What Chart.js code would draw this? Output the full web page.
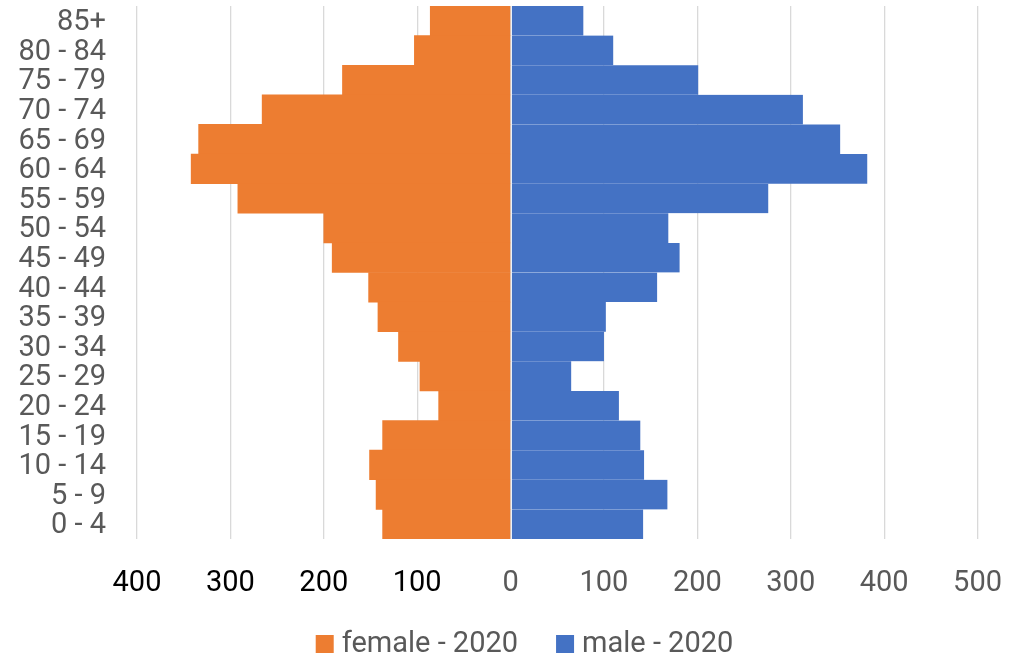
<!DOCTYPE html>
<html>
<head>
<meta charset="utf-8">
<script src="https://cdn.jsdelivr.net/npm/chart.js@4/dist/chart.umd.min.js"></script>
<style>
  html, body { margin: 0; padding: 0; background: #ffffff; }
  #wrap { width: 1029px; height: 658px; position: relative; }
</style>
</head>
<body>
<div id="wrap"><canvas id="pyramid" width="1029" height="658"></canvas></div>
<script>
// Age groups, oldest at the top
const ageGroups = ['85+', '80 - 84', '75 - 79', '70 - 74', '65 - 69', '60 - 64', '55 - 59',
  '50 - 54', '45 - 49', '40 - 44', '35 - 39', '30 - 34', '25 - 29', '20 - 24',
  '15 - 19', '10 - 14', '5 - 9', '0 - 4'];

// Population counts per age group, 2020
const female2020 = [86, 103, 180, 266, 334, 342, 292, 200, 191, 152, 142, 120, 97, 77, 137, 151, 144, 137];
const male2020   = [78, 110, 201, 313, 353, 382, 276, 169, 181, 157, 102, 100, 65, 116, 139, 143, 168, 142];

// Axis range and tick step
const axisMin = -400;
const axisMax = 500;
const axisStep = 100;

const FONT = 'Roboto, "Open Sans", Arial, sans-serif';
const ORANGE = '#ED7D31';
const BLUE = '#4472C4';

// Legend drawn centred under the plot: square swatch, text, gap between entries
const bottomLegend = {
  id: 'bottomLegend',
  afterDraw(chart, args, opts) {
    const ctx = chart.ctx;
    ctx.save();
    ctx.font = opts.fontSize + 'px ' + FONT;
    ctx.textBaseline = 'middle';
    ctx.textAlign = 'left';
    const items = chart.data.datasets.map(ds => ({
      text: ds.label, color: ds.backgroundColor, w: ctx.measureText(ds.label).width
    }));
    let total = 0;
    items.forEach((it, i) => {
      total += opts.box + opts.boxGap + it.w + (i < items.length - 1 ? opts.itemGap : 0);
    });
    let x = opts.centerX - total / 2;
    items.forEach(it => {
      ctx.fillStyle = it.color;
      ctx.fillRect(x, opts.centerY - opts.box / 2, opts.box, opts.box);
      x += opts.box + opts.boxGap;
      ctx.fillStyle = opts.color;
      ctx.fillText(it.text, x, opts.centerY + 1);
      x += it.w + opts.itemGap;
    });
    ctx.restore();
  }
};

new Chart(document.getElementById('pyramid'), {
  type: 'bar',
  data: {
    labels: ageGroups,
    datasets: [
      {
        label: 'female - 2020',
        data: female2020.map(v => -v),
        backgroundColor: ORANGE,
        borderWidth: 0
      },
      {
        label: 'male - 2020',
        data: male2020,
        backgroundColor: BLUE,
        borderColor: 'rgba(255,255,255,0.85)',
        borderWidth: { left: 1, top: 0, right: 0, bottom: 0 },
        borderSkipped: false
      }
    ]
  },
  options: {
    indexAxis: 'y',
    responsive: false,
    maintainAspectRatio: false,
    devicePixelRatio: 1,
    animation: false,
    categoryPercentage: 1.0,
    barPercentage: 1.0,
    layout: { padding: { top: 6, right: 51, bottom: 0, left: 0 } },
    plugins: {
      legend: { display: false },
      tooltip: { enabled: false },
      bottomLegend: {
        fontSize: 29,
        box: 18,
        boxGap: 8,
        itemGap: 38,
        centerX: 524.5,
        centerY: 644,
        color: '#595959'
      }
    },
    scales: {
      x: {
        stacked: true,
        min: axisMin,
        max: axisMax,
        border: { display: false },
        grid: { color: '#d9d9d9', lineWidth: 1.3, drawTicks: false },
        ticks: {
          stepSize: axisStep,
          padding: 27,
          font: { family: FONT, size: 29 },
          color: (c) => (c.tick && c.tick.value < 0 ? '#000000' : '#595959'),
          callback: (v) => Math.abs(v)
        },
        afterFit: (s) => { s.height = 119; }
      },
      y: {
        stacked: true,
        border: { display: false },
        grid: { display: false, drawTicks: false },
        ticks: {
          autoSkip: false,
          padding: 31,
          labelOffset: 2,
          font: { family: FONT, size: 29 },
          color: '#595959'
        },
        afterFit: (s) => {
          s.width = 137;
          s.paddingTop = 0;
          s.paddingBottom = 0;
        }
      }
    }
  },
  plugins: [bottomLegend]
});
</script>
</body>
</html>
